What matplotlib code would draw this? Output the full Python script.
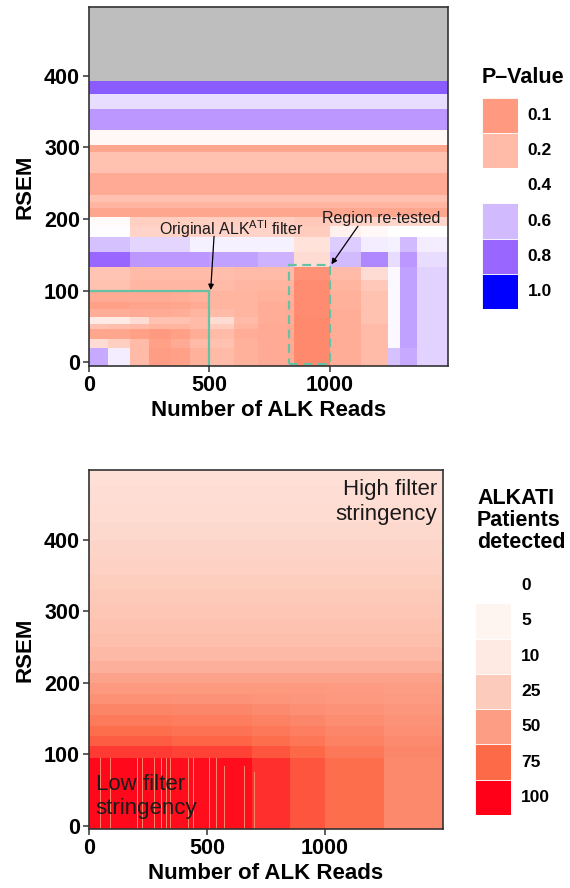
import numpy as np
import matplotlib.pyplot as plt
from matplotlib.colors import LinearSegmentedColormap, Normalize
from matplotlib.patches import Rectangle

plt.rcParams['font.family'] = ['Liberation Sans', 'DejaVu Sans']
plt.rcParams['font.weight'] = 'bold'
plt.rcParams['axes.labelweight'] = 'bold'
plt.rcParams['mathtext.default'] = 'regular'

# ========== Data: p-value per filter cell (top) ==========
pv_read_edges = [0, 80, 170, 250, 340, 420, 500, 600, 700, 850, 1000, 1130, 1240, 1290, 1360, 1490]
pv_low_rsem_edges = [-5, 20, 32, 46, 53, 64, 74, 85, 99, 115, 133, 154, 175, 190, 203]
pv_low = [
    [0.64, 0.45, 0.20, 0.11, 0.12, 0.17, 0.20, 0.17, 0.15, 0.06, 0.16, 0.20, 0.58, 0.64, 0.53],
    [0.30, 0.26, 0.20, 0.12, 0.15, 0.20, 0.22, 0.17, 0.15, 0.06, 0.16, 0.20, 0.42, 0.66, 0.53],
    [0.14, 0.14, 0.12, 0.10, 0.12, 0.16, 0.20, 0.16, 0.15, 0.06, 0.16, 0.20, 0.42, 0.66, 0.53],
    [0.22, 0.21, 0.20, 0.18, 0.18, 0.20, 0.25, 0.18, 0.15, 0.06, 0.16, 0.20, 0.42, 0.66, 0.53],
    [0.34, 0.34, 0.30, 0.22, 0.22, 0.20, 0.30, 0.20, 0.16, 0.06, 0.16, 0.22, 0.42, 0.66, 0.53],
    [0.16, 0.16, 0.15, 0.15, 0.16, 0.18, 0.20, 0.18, 0.16, 0.07, 0.16, 0.22, 0.42, 0.66, 0.53],
    [0.12, 0.12, 0.13, 0.13, 0.14, 0.15, 0.18, 0.18, 0.16, 0.07, 0.17, 0.22, 0.42, 0.66, 0.53],
    [0.15, 0.15, 0.15, 0.15, 0.16, 0.17, 0.18, 0.18, 0.17, 0.07, 0.17, 0.22, 0.42, 0.66, 0.53],
    [0.22, 0.22, 0.19, 0.19, 0.19, 0.19, 0.20, 0.19, 0.18, 0.07, 0.18, 0.24, 0.42, 0.66, 0.53],
    [0.23, 0.23, 0.20, 0.20, 0.20, 0.20, 0.21, 0.20, 0.20, 0.08, 0.20, 0.30, 0.42, 0.66, 0.53],
    [0.80, 0.80, 0.68, 0.68, 0.68, 0.68, 0.66, 0.66, 0.62, 0.30, 0.60, 0.72, 0.50, 0.68, 0.50],
    [0.58, 0.58, 0.52, 0.52, 0.52, 0.44, 0.44, 0.44, 0.44, 0.32, 0.55, 0.45, 0.44, 0.60, 0.45],
    [0.41, 0.41, 0.27, 0.27, 0.27, 0.27, 0.27, 0.27, 0.27, 0.25, 0.36, 0.38, 0.40, 0.40, 0.40],
    [0.39, 0.39, 0.26, 0.26, 0.26, 0.26, 0.26, 0.26, 0.26, 0.24, 0.27, 0.27, 0.28, 0.28, 0.28],
]
pv_high_rsem_edges = [203, 215, 224, 233, 264, 294, 304, 325, 354, 375, 393, 496]
pv_high = [0.14, 0.18, 0.22, 0.15, 0.22, 0.14, 0.38, 0.68, 0.50, 0.82, np.nan]

pv_legend_labels = ["0.1", "0.2", "0.4", "0.6", "0.8", "1.0"]
pv_legend_colors = ["#FF9A80", "#FFBBA8", "#FFFFFF", "#D2BAFF", "#9966FF", "#0000FF"]

original_filter = (500, 100)          # reads, RSEM
retest_region = (830, 1000, -2, 136)  # reads lo/hi, RSEM lo/hi

# ========== Data: ALKATI patients detected (bottom) ==========
pt_read_edges = [0, 170, 350, 690, 850, 1000, 1250, 1500]
pt_low_rsem_edges = [-4, 95, 112, 126, 140, 155, 170, 185, 200, 214]
pt_low = [
    [98, 98, 97, 89, 80, 73, 60],
    [86, 86, 84, 80, 75, 68, 61],
    [78, 78, 76, 73, 69, 64, 59],
    [73, 73, 71, 68, 65, 61, 57],
    [67, 67, 66, 63, 61, 58, 55],
    [62, 62, 61, 59, 57, 55, 53],
    [56, 56, 55, 54, 53, 52, 51],
    [52, 52, 52, 52, 52, 51, 50],
    [47, 47, 47, 47, 47, 47, 47],
]
pt_high_rsem_edges = [214, 230, 250, 270, 290, 310, 330, 350, 375, 400, 425, 450, 475, 497]
pt_high = [40, 35, 32, 30, 28, 26, 24, 22, 20, 18.5, 17, 16, 15]

stripe_reads = [26, 48, 68, 91, 115, 140, 161, 178, 207, 228, 246, 277, 306,
                327, 345, 365, 398, 423, 444, 475, 511, 539, 574, 610, 659, 702]
stripe_tops = [95, 95, 95, 95, 95, 95, 95, 95, 95, 95, 95, 95, 95,
               95, 95, 95, 95, 95, 95, 95, 95, 95, 84, 84, 84, 75]
stripe_value = 62

pt_legend_labels = ["0", "5", "10", "25", "50", "75", "100"]
pt_legend_colors = ["#FFFFFF", "#FFF5F0", "#FEEAE3", "#FDCBBB", "#FC9D84", "#FD6A48", "#FF0018"]

# ========== Colour scales ==========
pv_cmap = LinearSegmentedColormap.from_list(
    "pv", [(0.0, "#FF7050"), (0.1, "#FF9A80"), (0.2, "#FFBBA8"), (0.4, "#FFFFFF"),
           (0.6, "#D2BAFF"), (0.8, "#9966FF"), (1.0, "#0000FF")])
pv_cmap.set_bad("#BEBEBE")
pt_cmap = LinearSegmentedColormap.from_list(
    "pt", [(0.0, "#FFFFFF"), (0.05, "#FFF5F0"), (0.10, "#FEEAE3"), (0.25, "#FDCBBB"),
           (0.50, "#FC9D84"), (0.75, "#FD6A48"), (1.0, "#FF0018")])
pt_norm = Normalize(0, 100)

W, H = 570, 888
fig = plt.figure(figsize=(W / 100, H / 100), dpi=100)

def px_axes(x0, y0, x1, y1):
    return fig.add_axes([x0 / W, 1 - y1 / H, (x1 - x0) / W, (y1 - y0) / H])

def style_axes(ax):
    for s in ax.spines.values():
        s.set_color("#333333")
        s.set_linewidth(1.2)
    ax.tick_params(direction="out", length=4.5, width=1.1, color="#333333",
                   labelsize=15.5, pad=2)
    ax.set_xticks([0, 500, 1000])
    ax.set_yticks([0, 100, 200, 300, 400])
    ax.set_xlabel("Number of ALK Reads", fontsize=16, fontweight="bold", labelpad=3)
    ax.set_ylabel("RSEM", fontsize=16, fontweight="bold", labelpad=6)

# ---------- top panel ----------
ax1 = px_axes(89, 7, 448, 366)
ax1.set_facecolor("#BEBEBE")
pv_mat = np.vstack([np.array(pv_low),
                    np.repeat(np.array(pv_high)[:, None], len(pv_read_edges) - 1, axis=1)])
pv_y = pv_low_rsem_edges + pv_high_rsem_edges[1:]
ax1.pcolormesh(pv_read_edges, pv_y, np.ma.masked_invalid(pv_mat), cmap=pv_cmap,
               vmin=0, vmax=1, shading="flat", antialiased=False, linewidth=0)
ax1.set_xlim(0, 1490)
ax1.set_ylim(-5, 496)

green = "#66C2A5"
ox, oy = original_filter
ax1.plot([0, ox], [oy, oy], color=green, lw=1.6)
ax1.plot([ox, ox], [oy, -5], color=green, lw=1.6)
rx0, rx1, ry0, ry1 = retest_region
ax1.add_patch(Rectangle((rx0, ry0), rx1 - rx0, ry1 - ry0, fill=False,
                        edgecolor=green, lw=1.6, linestyle=(0, (4, 2.5))))

ax1.text(592, 186, "Original ALK$^{ATI}$ filter", ha="center", va="center",
         fontsize=11.5, fontweight="normal", color="#1a1a1a")
ax1.annotate("", xy=(505, 101), xytext=(519, 176),
             arrowprops=dict(arrowstyle="-|>", color="black", lw=0.9, mutation_scale=8,
                             shrinkA=0, shrinkB=0))
ax1.text(1213, 201, "Region re-tested", ha="center", va="center",
         fontsize=11.5, fontweight="normal", color="#1a1a1a")
ax1.annotate("", xy=(1006, 137), xytext=(1116, 190),
             arrowprops=dict(arrowstyle="-|>", color="black", lw=0.9, mutation_scale=8,
                             shrinkA=0, shrinkB=0))
style_axes(ax1)

# ---------- bottom panel ----------
ax2 = px_axes(89, 470, 443, 829)
pt_mat = np.vstack([np.array(pt_low, dtype=float),
                    np.repeat(np.array(pt_high)[:, None], len(pt_read_edges) - 1, axis=1)])
pt_y = pt_low_rsem_edges + pt_high_rsem_edges[1:]
ax2.pcolormesh(pt_read_edges, pt_y, pt_mat, cmap=pt_cmap, norm=pt_norm,
               shading="flat", antialiased=False, linewidth=0)
ax2.bar(stripe_reads, np.array(stripe_tops) + 4, bottom=-4, width=3,
        color=pt_cmap(pt_norm(stripe_value)), linewidth=0, align="center")
ax2.set_xlim(0, 1500)
ax2.set_ylim(-4, 497)
ax2.text(1476, 484, "High filter\nstringency", ha="right", va="top",
         fontsize=16, fontweight="normal", color="#1a1a1a")
ax2.text(28, 41, "Low filter\nstringency", ha="left", va="center",
         fontsize=16, fontweight="normal", color="#1a1a1a")
style_axes(ax2)

# ---------- legends ----------
def draw_key(ax, labels, colors):
    n = len(labels)
    ax.barh(range(n), [1] * n, height=1, left=0, color=colors,
            edgecolor="white", linewidth=0.6)
    ax.set_xlim(0, 1)
    ax.set_ylim(n - 0.5, -0.5)
    ax.axis("off")
    for i, lab in enumerate(labels):
        ax.text(1.28, i, lab, ha="left", va="center", fontsize=12.5, clip_on=False)

lg1 = px_axes(481.7, 97.7, 517.7, 309.3)
draw_key(lg1, pv_legend_labels, pv_legend_colors)
fig.text(481.7 / W, 1 - 77 / H, "P\u2013Value", ha="left", va="center", fontsize=15.5)

lg2 = px_axes(475, 568, 511, 815)
draw_key(lg2, pt_legend_labels, pt_legend_colors)
fig.text(477 / W, 1 - 488 / H, "ALKATI\nPatients\ndetected", ha="left", va="top",
         fontsize=15.5, linespacing=1.05)

fig.savefig("out.png", dpi=100, facecolor="white")
